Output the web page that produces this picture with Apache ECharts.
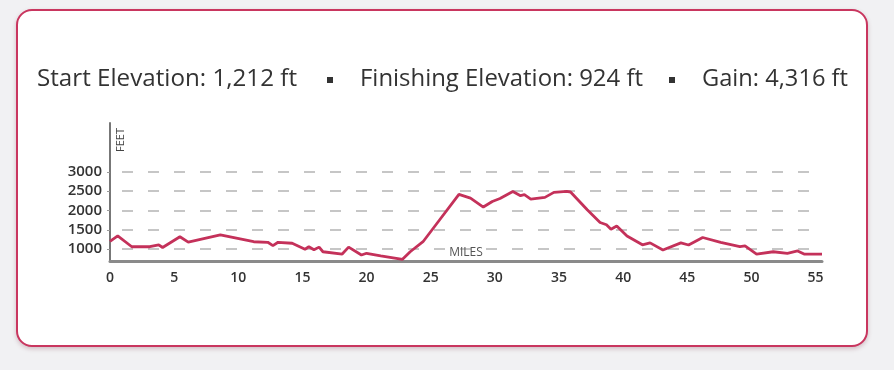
<!DOCTYPE html>
<html>
<head>
<meta charset="utf-8">
<script src="https://cdn.jsdelivr.net/npm/echarts@6/dist/echarts.min.js"></script>
<style>
  body { margin: 0; background: #f1f1f3; }
  .card {
    position: absolute; left: 16px; top: 9px; width: 848px; height: 334px;
    border: 2px solid #c9365f; border-radius: 16px; background: #fff;
    box-shadow: 0 2px 4px rgba(120, 40, 60, 0.25);
  }
  #chart { position: absolute; left: 0; top: 0; width: 894px; height: 370px; }
</style>
</head>
<body>
<div class="card"></div>
<div id="chart"></div>
<script>
  // elevation profile
  const miles = [0, 0.6, 1.7, 3.1, 3.8, 4.1, 5.45, 6.1, 8.6, 11.2, 12.3, 12.7, 13.1, 14.2, 15.2, 15.5, 15.9, 16.3, 16.6,
    18.1, 18.6, 19.6, 20.0, 21.1, 22.8, 23.4, 24.4, 25.7, 27.2, 28.1, 29.1, 29.8, 30.4, 31.4, 32.0, 32.3, 32.8, 33.9,
    34.6, 35.6, 35.9, 37.2, 38.2, 38.7, 39.05, 39.5, 40.3, 41.5, 42.1, 43.1, 44.5, 45.1, 46.2, 47.6, 49.1, 49.5, 50.4,
    51.7, 52.8, 53.6, 54.1, 55.5];
  const feet = [1200, 1340, 1060, 1060, 1110, 1040, 1320, 1180, 1370, 1190, 1175, 1090, 1175, 1150, 995, 1060, 980, 1050, 930,
    870, 1050, 845, 890, 820, 735, 930, 1190, 1760, 2420, 2320, 2090, 2235, 2310, 2495, 2385, 2410, 2295, 2340,
    2470, 2495, 2480, 2020, 1690, 1630, 1515, 1600, 1340, 1110, 1160, 975, 1160, 1105, 1300, 1175, 1060, 1080, 870,
    930, 890, 950, 870, 870];
  const yTicks = [1000, 1500, 2000, 2500, 3000];
  const xTicks = [0, 5, 10, 15, 20, 25, 30, 35, 40, 45, 50, 55];
  const headerParts = ['Start Elevation: 1,212 ft', 'Finishing Elevation: 924 ft', 'Gain: 4,316 ft'];

  const chart = echarts.init(document.getElementById('chart'));

  // the header font is condensed, squeeze a normal one to the same widths
  const headFont = '24px "Open Sans"';
  const ctx = document.createElement('canvas').getContext('2d');
  ctx.font = headFont;
  const headLeft = [37, 360, 702];
  const headWidth = [260, 283, 146];
  const header = headerParts.map((t, i) => ({
    type: 'text',
    x: headLeft[i],
    y: 79,
    scaleX: headWidth[i] / ctx.measureText(t).width,
    style: { text: t, font: headFont, fill: '#333', textVerticalAlign: 'middle' },
  }));

  const option = {
    animation: false,
    grid: { left: 110, right: 72, top: 123, bottom: 109 },
    graphic: header.concat([
      { type: 'rect', shape: { x: 327, y: 77, width: 6, height: 6 }, style: { fill: '#333' } },
      { type: 'rect', shape: { x: 669, y: 77, width: 6, height: 6 }, style: { fill: '#333' } },
      {
        type: 'text', x: 121, y: 140, rotation: Math.PI / 2,
        style: { text: 'FEET', font: '11px "Open Sans"', fill: '#444', textAlign: 'center', textVerticalAlign: 'middle' },
      },
    ]),
    xAxis: {
      type: 'value',
      min: 0,
      max: 55.5,
      name: 'MILES',
      nameLocation: 'middle',
      nameGap: -14,
      nameTextStyle: { fontFamily: 'Open Sans', fontSize: 12, color: '#555' },
      axisLine: { lineStyle: { color: '#8a8a8a', width: 3 } },
      axisTick: { show: false },
      splitLine: { show: false },
      axisLabel: {
        customValues: xTicks,
        margin: 10,
        fontFamily: 'Open Sans',
        fontSize: 14,
        fontWeight: 600,
        color: '#333',
      },
    },
    yAxis: {
      type: 'value',
      min: 690,
      max: 4270,
      axisLine: { show: true, lineStyle: { color: '#777', width: 2 } },
      axisTick: { show: true, customValues: yTicks, length: 3, lineStyle: { color: '#999' } },
      axisLabel: {
        customValues: yTicks,
        margin: 8,
        formatter: (v) => String(v),
        fontFamily: 'Open Sans',
        fontSize: 15,
        fontWeight: 600,
        color: '#333',
      },
      splitLine: {
        show: true,
        lineStyle: { color: '#c6c6c6', width: 2, type: [11, 15], dashOffset: -12 },
      },
    },
    series: [
      {
        type: 'line',
        data: miles.map((m, i) => [m, feet[i]]),
        showSymbol: false,
        lineStyle: { color: '#c4315a', width: 2.8 },
        z: 5,
      },
    ],
  };
  chart.setOption(option);
</script>
</body>
</html>
